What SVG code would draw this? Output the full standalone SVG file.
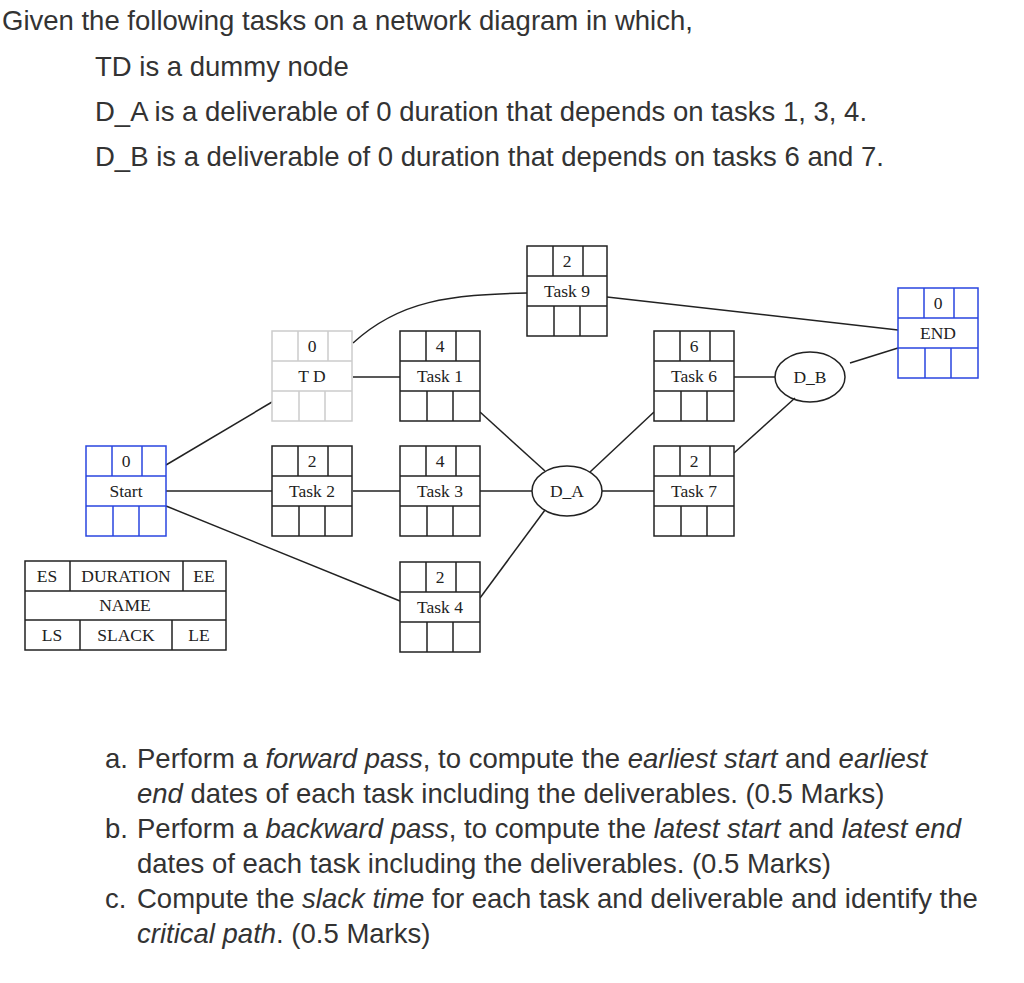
<svg xmlns="http://www.w3.org/2000/svg" width="1024" height="983" viewBox="0 0 1024 983">
<defs>
<style>
.t{font-family:"Liberation Sans",Arial,sans-serif;font-size:27.5px;fill:#333}
.d{font-family:"Liberation Serif","Times New Roman",serif;font-size:17.5px;fill:#222;text-anchor:middle}
.b{fill:#fff;stroke-width:1.5}
.c{stroke-width:1.5;fill:none}
.conn line,.conn path,ellipse,.lg{stroke:#222;stroke-width:1.5;fill:none}
</style>
<g id="cell">
<rect class="b" x="0" y="0" width="80" height="90"/>
<path class="c" d="M0,30H80M0,60H80M26,0V30M56,0V30M27,60V90M53,60V90"/>
</g>
</defs>
<rect width="1024" height="983" fill="#fff"/>
<text class="t" x="2" y="30">Given the following tasks on a network diagram in which,</text>
<text class="t" x="95" y="76">TD is a dummy node</text>
<text class="t" x="95" y="121">D_A is a deliverable of 0 duration that depends on tasks 1, 3, 4.</text>
<text class="t" x="95" y="166">D_B is a deliverable of 0 duration that depends on tasks 6 and 7.</text>

<g id="connectors" class="conn">
<line x1="166" y1="465" x2="272" y2="402"/>
<line x1="166" y1="491" x2="272" y2="491"/>
<line x1="166" y1="506" x2="400" y2="601"/>
<line x1="353" y1="377" x2="400" y2="377"/>
<path d="M353,343 C400,300 450,295 527,293"/>
<line x1="353" y1="491" x2="400" y2="491"/>
<line x1="480" y1="412" x2="545" y2="471"/>
<line x1="480" y1="491" x2="532" y2="491"/>
<line x1="480" y1="598" x2="545" y2="510"/>
<line x1="590" y1="472" x2="654" y2="412"/>
<line x1="602" y1="491" x2="654" y2="491"/>
<line x1="734" y1="377" x2="775" y2="377"/>
<line x1="734" y1="453" x2="795" y2="398"/>
<line x1="850" y1="363" x2="898" y2="348"/>
<line x1="607" y1="297" x2="898" y2="330"/>
</g>

<g id="start"><use href="#cell" x="86" y="446" stroke="#2a46e0"/><text class="d" x="126" y="467">0</text><text class="d" x="126" y="497">Start</text></g>
<g id="td"><use href="#cell" x="272" y="331" stroke="#cccccc"/><text class="d" x="312" y="352">0</text><text class="d" x="312" y="382">T D</text></g>
<g id="task1"><use href="#cell" x="400" y="331" stroke="#222"/><text class="d" x="440" y="352">4</text><text class="d" x="440" y="382">Task 1</text></g>
<g id="task9"><use href="#cell" x="527" y="246" stroke="#222"/><text class="d" x="567" y="267">2</text><text class="d" x="567" y="297">Task 9</text></g>
<g id="task2"><use href="#cell" x="272" y="446" stroke="#222"/><text class="d" x="312" y="467">2</text><text class="d" x="312" y="497">Task 2</text></g>
<g id="task3"><use href="#cell" x="400" y="446" stroke="#222"/><text class="d" x="440" y="467">4</text><text class="d" x="440" y="497">Task 3</text></g>
<g id="task4"><use href="#cell" x="400" y="562" stroke="#222"/><text class="d" x="440" y="583">2</text><text class="d" x="440" y="613">Task 4</text></g>
<g id="task6"><use href="#cell" x="654" y="331" stroke="#222"/><text class="d" x="694" y="352">6</text><text class="d" x="694" y="382">Task 6</text></g>
<g id="task7"><use href="#cell" x="654" y="446" stroke="#222"/><text class="d" x="694" y="467">2</text><text class="d" x="694" y="497">Task 7</text></g>
<g id="end"><use href="#cell" x="898" y="288" stroke="#2a46e0"/><text class="d" x="938" y="309">0</text><text class="d" x="938" y="339">END</text></g>
<g id="da"><ellipse cx="567" cy="491" rx="35" ry="25" fill="#fff"/><text class="d" x="567" y="497">D_A</text></g>
<g id="db"><ellipse cx="810" cy="377" rx="35" ry="25" fill="#fff"/><text class="d" x="810" y="383">D_B</text></g>

<g id="legend">
<rect class="lg" x="25" y="561" width="201" height="89"/>
<path class="lg" d="M25,591H226M25,620H226M70,561V591M183,561V591M80,620V650M172,620V650"/>
<text class="d" x="47" y="582">ES</text><text class="d" x="126" y="582">DURATION</text><text class="d" x="204" y="582">EE</text>
<text class="d" x="125" y="611">NAME</text>
<text class="d" x="52" y="641">LS</text><text class="d" x="126" y="641">SLACK</text><text class="d" x="199" y="641">LE</text>
</g>

<text class="t" x="105" y="768">a.</text>
<text class="t" x="137" y="768">Perform a <tspan font-style="italic">forward pass</tspan>, to compute the <tspan font-style="italic">earliest start</tspan> and <tspan font-style="italic">earliest</tspan></text>
<text class="t" x="137" y="803"><tspan font-style="italic">end</tspan> dates of each task including the deliverables. (0.5 Marks)</text>
<text class="t" x="105" y="838">b.</text>
<text class="t" x="137" y="838">Perform a <tspan font-style="italic">backward pass</tspan>, to compute the <tspan font-style="italic">latest start</tspan> and <tspan font-style="italic">latest end</tspan></text>
<text class="t" x="137" y="873">dates of each task including the deliverables. (0.5 Marks)</text>
<text class="t" x="105" y="908">c.</text>
<text class="t" x="137" y="908">Compute the <tspan font-style="italic">slack time</tspan> for each task and deliverable and identify the</text>
<text class="t" x="137" y="943"><tspan font-style="italic">critical path</tspan>. (0.5 Marks)</text>
</svg>
